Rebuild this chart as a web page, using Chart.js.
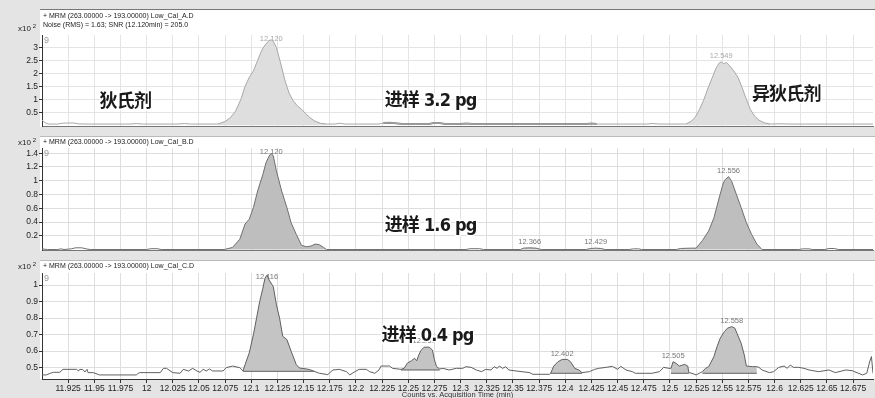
<!DOCTYPE html>
<html>
<head>
<meta charset="utf-8">
<script src="https://cdn.jsdelivr.net/npm/chart.js@4.4.0/dist/chart.umd.min.js"></script>
<style>
  html, body { margin: 0; padding: 0; background: #e4e4e4; }
  body { width: 875px; height: 398px; position: relative; overflow: hidden; }
  canvas { position: absolute; left: 0; }
</style>
</head>
<body>
<canvas id="panel-a" width="875" height="133" style="top:0px"></canvas>
<canvas id="panel-b" width="875" height="124" style="top:133px"></canvas>
<canvas id="panel-c" width="875" height="141" style="top:257px"></canvas>
<script>
// shared time axis (min)
const timeMin = 11.9;
const timeMax = 12.694;
const timeTicks = [11.925, 11.95, 11.975, 12, 12.025, 12.05, 12.075, 12.1, 12.125, 12.15, 12.175, 12.2,
    12.225, 12.25, 12.275, 12.3, 12.325, 12.35, 12.375, 12.4, 12.425, 12.45, 12.475, 12.5, 12.525,
    12.55, 12.575, 12.6, 12.625, 12.65, 12.675];

// Low_Cal_A (3.2 pg), counts x10^2
const timesA = [11.900, 11.903, 11.906, 11.915, 11.919, 11.924, 11.930, 11.935, 11.940, 11.985, 11.990, 11.996,
    12.030, 12.036, 12.042, 12.068, 12.075, 12.080, 12.085, 12.090, 12.094, 12.098, 12.102, 12.106, 12.110,
    12.114, 12.117, 12.119, 12.121, 12.124, 12.128, 12.132, 12.136, 12.140, 12.144, 12.148, 12.152, 12.156,
    12.160, 12.166, 12.172, 12.180, 12.184, 12.190, 12.222, 12.226, 12.232, 12.238, 12.244, 12.270, 12.274,
    12.280, 12.285, 12.300, 12.305, 12.312, 12.420, 12.425, 12.430, 12.478, 12.483, 12.490, 12.515, 12.520,
    12.524, 12.528, 12.532, 12.536, 12.540, 12.544, 12.547, 12.549, 12.551, 12.554, 12.557, 12.561, 12.565,
    12.569, 12.573, 12.577, 12.581, 12.585, 12.590, 12.596, 12.605, 12.615, 12.694];
const countsA = [0.20, 0.10, 0.05, 0.05, 0.08, 0.09, 0.09, 0.06, 0.05, 0.05, 0.07, 0.05,
    0.05, 0.07, 0.05, 0.05, 0.15, 0.30, 0.55, 1.00, 1.50, 1.85, 2.10, 2.50, 2.90,
    3.15, 3.27, 3.30, 3.24, 3.00, 2.40, 1.75, 1.25, 0.95, 0.75, 0.62, 0.45, 0.30,
    0.18, 0.08, 0.05, 0.05, 0.08, 0.05, 0.05, 0.09, 0.10, 0.08, 0.05, 0.05, 0.09,
    0.09, 0.05, 0.05, 0.07, 0.05, 0.05, 0.07, 0.05, 0.05, 0.07, 0.05, 0.05, 0.15,
    0.30, 0.60, 0.95, 1.40, 1.80, 2.20, 2.40, 2.45, 2.38, 2.42, 2.30, 2.10, 1.85,
    1.45, 1.00, 0.60, 0.35, 0.20, 0.10, 0.05, 0.06, 0.05, 0.05];
const yTicksA = [0.5, 1, 1.5, 2, 2.5, 3];
const peakRangesA = [[12.068, 12.172], [12.515, 12.596]];
const peakLabelsA = ['12.120', '12.549'];

// Low_Cal_B (1.6 pg)
const timesB = [11.900, 11.905, 11.915, 11.918, 11.921, 11.928, 11.932, 11.938, 11.942, 11.946, 12.000, 12.004,
    12.010, 12.014, 12.074, 12.082, 12.089, 12.094, 12.098, 12.102, 12.106, 12.111, 12.114, 12.117, 12.119,
    12.121, 12.124, 12.129, 12.134, 12.138, 12.143, 12.148, 12.153, 12.157, 12.161, 12.165, 12.169, 12.172,
    12.305, 12.309, 12.318, 12.322, 12.357, 12.360, 12.366, 12.372, 12.377, 12.420, 12.424, 12.429, 12.434,
    12.438, 12.461, 12.465, 12.470, 12.473, 12.506, 12.510, 12.520, 12.525, 12.531, 12.537, 12.542, 12.547,
    12.551, 12.553, 12.556, 12.559, 12.563, 12.568, 12.573, 12.578, 12.583, 12.588, 12.623, 12.627, 12.633,
    12.636, 12.648, 12.652, 12.657, 12.661, 12.694];
const countsB = [0.01, 0.00, 0.00, 0.01, 0.00, 0.01, 0.025, 0.025, 0.01, 0.00, 0.00, 0.012,
    0.012, 0.00, 0.00, 0.03, 0.15, 0.37, 0.44, 0.61, 0.85, 1.09, 1.26, 1.36, 1.40,
    1.36, 1.14, 0.85, 0.61, 0.39, 0.22, 0.06, 0.04, 0.05, 0.08, 0.07, 0.03, 0.00,
    0.00, 0.012, 0.012, 0.00, 0.00, 0.02, 0.025, 0.02, 0.00, 0.00, 0.015, 0.02, 0.015,
    0.00, 0.00, 0.01, 0.01, 0.00, 0.00, 0.015, 0.02, 0.02, 0.13, 0.27, 0.46, 0.75,
    0.97, 1.02, 1.06, 0.99, 0.82, 0.61, 0.39, 0.22, 0.08, 0.00, 0.00, 0.01, 0.01,
    0.00, 0.00, 0.015, 0.015, 0.00, 0.00];
const yTicksB = [0.2, 0.4, 0.6, 0.8, 1, 1.2, 1.4];
const peakRangesB = [[12.074, 12.172], [12.357, 12.377], [12.420, 12.438], [12.506, 12.525], [12.525, 12.588]];
const peakLabelsB = ['12.120', '12.366', '12.429', '', '12.556'];

// Low_Cal_C (0.4 pg)
const timesC = [11.900, 11.904, 11.908, 11.911, 11.917, 11.920, 11.933, 11.935, 11.936, 11.939, 11.941, 11.943,
    11.944, 11.949, 11.955, 11.990, 11.993, 12.013, 12.016, 12.019, 12.025, 12.032, 12.035, 12.040, 12.044,
    12.048, 12.051, 12.054, 12.057, 12.060, 12.063, 12.073, 12.076, 12.082, 12.089, 12.092, 12.094, 12.098,
    12.102, 12.105, 12.108, 12.111, 12.113, 12.115, 12.117, 12.121, 12.124, 12.127, 12.130, 12.134, 12.138,
    12.143, 12.146, 12.153, 12.156, 12.160, 12.165, 12.173, 12.176, 12.178, 12.184, 12.191, 12.194, 12.199,
    12.203, 12.210, 12.213, 12.218, 12.222, 12.224, 12.232, 12.235, 12.243, 12.246, 12.249, 12.253, 12.256,
    12.258, 12.260, 12.262, 12.265, 12.270, 12.273, 12.275, 12.277, 12.280, 12.283, 12.289, 12.296, 12.302,
    12.305, 12.310, 12.315, 12.320, 12.324, 12.329, 12.332, 12.335, 12.337, 12.340, 12.343, 12.346, 12.353,
    12.366, 12.369, 12.385, 12.386, 12.389, 12.393, 12.397, 12.402, 12.405, 12.409, 12.413, 12.416, 12.423,
    12.428, 12.432, 12.439, 12.445, 12.450, 12.453, 12.458, 12.464, 12.467, 12.483, 12.490, 12.494, 12.499,
    12.501, 12.503, 12.506, 12.509, 12.512, 12.514, 12.517, 12.518, 12.521, 12.525, 12.528, 12.531, 12.534,
    12.537, 12.542, 12.545, 12.548, 12.552, 12.555, 12.559, 12.562, 12.564, 12.568, 12.571, 12.573, 12.579,
    12.583, 12.585, 12.588, 12.595, 12.599, 12.604, 12.609, 12.612, 12.615, 12.618, 12.623, 12.628, 12.633,
    12.642, 12.652, 12.658, 12.668, 12.674, 12.684, 12.688, 12.691, 12.6925, 12.694];
const countsC = [0.456, 0.456, 0.466, 0.472, 0.472, 0.490, 0.490, 0.480, 0.490, 0.488, 0.474, 0.490,
    0.470, 0.470, 0.456, 0.456, 0.470, 0.470, 0.496, 0.496, 0.470, 0.466, 0.490, 0.480, 0.496,
    0.480, 0.472, 0.490, 0.480, 0.492, 0.480, 0.480, 0.500, 0.510, 0.500, 0.480, 0.518, 0.589,
    0.700, 0.800, 0.900, 0.980, 1.040, 1.060, 1.030, 0.990, 0.880, 0.800, 0.690, 0.670, 0.600,
    0.518, 0.498, 0.492, 0.488, 0.478, 0.466, 0.458, 0.475, 0.486, 0.490, 0.476, 0.456, 0.476,
    0.490, 0.490, 0.476, 0.466, 0.486, 0.510, 0.510, 0.496, 0.490, 0.496, 0.527, 0.542, 0.557,
    0.542, 0.577, 0.603, 0.624, 0.624, 0.607, 0.547, 0.506, 0.492, 0.496, 0.486, 0.496, 0.496,
    0.506, 0.502, 0.486, 0.476, 0.490, 0.486, 0.506, 0.496, 0.510, 0.496, 0.506, 0.486, 0.480,
    0.470, 0.460, 0.460, 0.466, 0.510, 0.536, 0.550, 0.550, 0.536, 0.496, 0.486, 0.470, 0.476,
    0.490, 0.496, 0.502, 0.508, 0.490, 0.508, 0.486, 0.476, 0.466, 0.466, 0.476, 0.502, 0.496,
    0.496, 0.536, 0.526, 0.510, 0.516, 0.520, 0.510, 0.470, 0.466, 0.456, 0.466, 0.476, 0.496,
    0.506, 0.567, 0.627, 0.678, 0.718, 0.739, 0.748, 0.739, 0.708, 0.648, 0.577, 0.510, 0.506,
    0.506, 0.502, 0.486, 0.470, 0.476, 0.502, 0.510, 0.496, 0.516, 0.502, 0.502, 0.496, 0.486,
    0.476, 0.486, 0.470, 0.486, 0.482, 0.456, 0.466, 0.540, 0.567, 0.466];
const yTicksC = [0.5, 0.6, 0.7, 0.8, 0.9, 1];
const peakRangesC = [[12.092, 12.160], [12.243, 12.280], [12.386, 12.416], [12.501, 12.518], [12.531, 12.583]];
const peakBasesC = [0.478, 0.486, 0.466, 0.466, 0.466];
const peakLabelsC = ['12.116', '12.263', '12.402', '12.505', '12.558'];

const tickFont = '"Liberation Sans", Arial, sans-serif';
const noteFont = 'bold 18px "DejaVu Sans Condensed", "Noto Sans CJK SC", sans-serif';

function toPoints(times, counts) {
    return times.map((t, i) => ({ x: t, y: counts[i] }));
}

// draws panel background, header text, peak labels and the big notes
const panelDecor = {
    id: 'panelDecor',
    beforeDraw(chart, args, o) {
        const ctx = chart.ctx;
        const a = chart.chartArea;
        ctx.save();
        ctx.fillStyle = '#e4e4e4';
        ctx.fillRect(0, 0, chart.width, chart.height);
        ctx.fillStyle = '#ffffff';
        ctx.fillRect(40, o.headerTop, chart.width - 40, a.bottom - o.headerTop);
        ctx.fillStyle = o.ruleColor;
        ctx.fillRect(40, o.headerTop, chart.width - 40, 1);
        ctx.restore();
    },
    beforeDatasetsDraw(chart, args, o) {
        const ctx = chart.ctx;
        const a = chart.chartArea;
        const xs = chart.scales.x;
        const ys = chart.scales.y;
        ctx.save();
        ctx.font = '7.5px ' + tickFont;
        ctx.fillStyle = o.labelColor;
        ctx.textAlign = 'center';
        ctx.textBaseline = 'bottom';
        o.ranges.forEach((r, i) => {
            if (!o.labels[i]) return;
            let best = null;
            o.times.forEach((t, j) => {
                if (t >= r[0] && t <= r[1] && (!best || o.counts[j] > best.y)) best = { x: t, y: o.counts[j] };
            });
            const py = Math.max(ys.getPixelForValue(best.y) - 2, a.top + 8);
            ctx.fillText(o.labels[i], xs.getPixelForValue(best.x), py);
        });
        ctx.restore();
    },
    afterDraw(chart, args, o) {
        const ctx = chart.ctx;
        const a = chart.chartArea;
        const xs = chart.scales.x;
        const ys = chart.scales.y;
        ctx.save();
        // header lines
        ctx.fillStyle = '#222';
        ctx.font = '7px ' + tickFont;
        ctx.textAlign = 'left';
        ctx.textBaseline = 'middle';
        o.header.forEach((line, i) => ctx.fillText(line, 43, o.headerY + i * 9));
        // x10^2 multiplier
        ctx.textAlign = 'right';
        ctx.font = '8px ' + tickFont;
        ctx.fillText('x10', 31, o.expY);
        ctx.font = '6px ' + tickFont;
        ctx.fillText('2', 36, o.expY - 3);
        // leftover label at plot corner
        ctx.fillStyle = '#999';
        ctx.font = '9px ' + tickFont;
        ctx.textAlign = 'left';
        ctx.textBaseline = 'top';
        ctx.fillText('9', a.left + 2, a.top + 1);
        // axis title
        if (o.axisTitle) {
            ctx.fillStyle = '#333';
            ctx.font = '7.5px ' + tickFont;
            ctx.textAlign = 'center';
            ctx.textBaseline = 'middle';
            ctx.fillText(o.axisTitle, (a.left + a.right) / 2, a.bottom + 16);
        }
        // big notes
        ctx.font = noteFont;
        ctx.letterSpacing = '-0.8px';
        ctx.textAlign = 'left';
        ctx.textBaseline = 'middle';
        o.notes.forEach(n => {
            const px = xs.getPixelForValue(n[1]);
            const py = ys.getPixelForValue(n[2]);
            ctx.strokeStyle = '#ffffff';
            ctx.lineWidth = 3;
            ctx.strokeText(n[0], px, py);
            ctx.fillStyle = '#1a1a1a';
            ctx.fillText(n[0], px, py);
        });
        ctx.restore();
    }
};

function buildPanel(canvasId, p) {
    const canvas = document.getElementById(canvasId);
    const points = toPoints(p.times, p.counts);
    const datasets = [{ data: points, borderColor: p.lineColor, borderWidth: 1, fill: false, order: 0 }];

    if (p.thickRange) {
        datasets.push({
            data: points.filter(pt => pt.x >= p.thickRange[0] && pt.x <= p.thickRange[1]),
            borderColor: '#8a8a8a', borderWidth: 2, fill: false, order: 1
        });
    }

    p.ranges.forEach((r, i) => {
        const base = p.bases ? p.bases[i] : 0;
        datasets.push({
            data: points.filter(pt => pt.x >= r[0] && pt.x <= r[1]),
            borderColor: 'transparent', backgroundColor: p.fillColor,
            fill: { value: base }, order: 3
        });
        if (p.bases) {
            datasets.push({
                data: [{ x: r[0], y: base }, { x: r[1], y: base }],
                borderColor: p.lineColor, borderWidth: 1, fill: false, order: 2
            });
        }
    });

    new Chart(canvas, {
        type: 'line',
        data: { datasets },
        options: {
            responsive: false,
            animation: false,
            parsing: false,
            layout: { padding: { left: 0, right: 2, top: p.plotTop, bottom: 0 } },
            elements: { point: { radius: 0 }, line: { tension: 0 } },
            plugins: {
                legend: { display: false },
                tooltip: { enabled: false },
                panelDecor: {
                    headerTop: p.headerTop, headerY: p.headerY, expY: p.expY, header: p.header,
                    ruleColor: p.ruleColor, labelColor: p.labelColor, ranges: p.ranges, labels: p.labels,
                    times: p.times, counts: p.counts, notes: p.notes, axisTitle: p.axisTitle
                }
            },
            scales: {
                x: {
                    type: 'linear',
                    min: timeMin,
                    max: timeMax,
                    afterBuildTicks: s => { s.ticks = timeTicks.map(v => ({ value: v })); },
                    afterFit: s => { s.height = canvas.height - p.plotBottom; },
                    grid: { color: p.gridColor, drawTicks: p.showTimeLabels, tickLength: 4, tickColor: '#333' },
                    border: { display: true, color: p.showTimeLabels ? '#333' : '#777' },
                    ticks: {
                        display: p.showTimeLabels, autoSkip: false, maxRotation: 0, minRotation: 0, padding: 1,
                        color: '#222', font: { family: tickFont, size: 8.5 },
                        callback: v => String(v)
                    }
                },
                y: {
                    type: 'linear',
                    min: p.yMin,
                    max: p.yMax,
                    afterBuildTicks: s => { s.ticks = p.yTicks.map(v => ({ value: v })); },
                    afterFit: s => { s.width = 42; },
                    grid: { color: p.gridColor, drawTicks: true, tickLength: 3, tickColor: '#333' },
                    border: { display: true, color: '#333' },
                    ticks: { padding: 1, color: '#222', font: { family: tickFont, size: 8.5 }, callback: v => String(v) }
                }
            }
        },
        plugins: [panelDecor]
    });
}

buildPanel('panel-a', {
    times: timesA, counts: countsA, yTicks: yTicksA, yMin: -0.06, yMax: 3.485,
    plotTop: 35, plotBottom: 130, headerTop: 9, headerY: 16, expY: 29,
    header: ['+ MRM (263.00000 -> 193.00000) Low_Cal_A.D', 'Noise (RMS) = 1.63; SNR (12.120min) = 205.0'],
    ranges: peakRangesA, labels: peakLabelsA, thickRange: [12.224, 12.474],
    lineColor: '#a8a8a8', fillColor: '#dedede', gridColor: '#e4e4e4', ruleColor: '#777', labelColor: '#aaa',
    showTimeLabels: false,
    notes: [['狄氏剂', 11.955, 0.87], ['进样 3.2 pg', 12.2274, 0.91], ['异狄氏剂', 12.5783, 1.15]]
});

buildPanel('panel-b', {
    times: timesB, counts: countsB, yTicks: yTicksB, yMin: -0.02, yMax: 1.476,
    plotTop: 15, plotBottom: 119, headerTop: 3, headerY: 9, expY: 10,
    header: ['+ MRM (263.00000 -> 193.00000) Low_Cal_B.D'],
    ranges: peakRangesB, labels: peakLabelsB,
    lineColor: '#707070', fillColor: '#bebebe', gridColor: '#dedede', ruleColor: '#bbb', labelColor: '#777',
    showTimeLabels: false,
    notes: [['进样 1.6 pg', 12.2274, 0.33]]
});

buildPanel('panel-c', {
    times: timesC, counts: countsC, yTicks: yTicksC, yMin: 0.4315, yMax: 1.0727,
    plotTop: 16, plotBottom: 122, headerTop: 3, headerY: 9.5, expY: 10,
    header: ['+ MRM (263.00000 -> 193.00000) Low_Cal_C.D'],
    ranges: peakRangesC, bases: peakBasesC, labels: peakLabelsC,
    lineColor: '#606060', fillColor: '#c4c4c4', gridColor: '#dedede', ruleColor: '#bbb', labelColor: '#777',
    showTimeLabels: true, axisTitle: 'Counts vs. Acquisition Time (min)',
    notes: [['进样 0.4 pg', 12.2245, 0.692]]
});
</script>
</body>
</html>
